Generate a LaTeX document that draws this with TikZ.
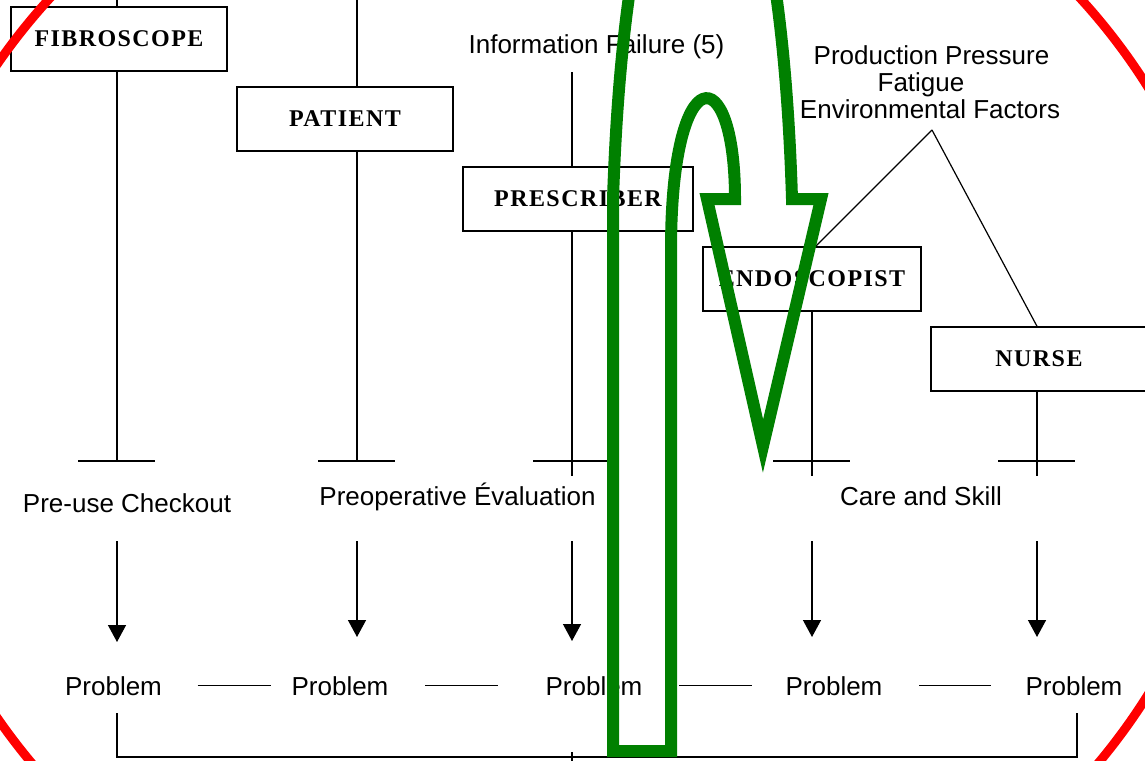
\documentclass[tikz,border=0pt]{standalone}
\usepackage{fontspec}
\setmainfont{Liberation Sans}
\newfontfamily\boxfont[LetterSpace=6]{Liberation Serif}
\usetikzlibrary{arrows.meta}
\definecolor{grn}{RGB}{0,128,0}
\definecolor{redring}{RGB}{255,0,0}
\begin{document}
\begin{tikzpicture}[x=1pt,y=-1pt,line width=1.4pt,
  boxnode/.style={draw,line width=1.4pt,minimum height=64pt,inner sep=0pt,
    font=\boxfont\bfseries\fontsize{24}{28}\selectfont},
  lbl/.style={inner sep=0pt,anchor=base,font=\fontsize{26}{31}\selectfont},
  prob/.style={lbl},
  tick/.style={line width=1.4pt},
  downarrow/.style={-{Triangle[width=18pt,length=17pt]}},
  bigarrow/.style={draw=grn,line width=12pt,line join=miter,miter limit=10},
  ring/.style={draw=redring,line width=9pt}]
\useasboundingbox (0,0) rectangle (1145,760);
\fill[white] (0,0) rectangle (1145,760);

% boxes
\node[boxnode,minimum width=216pt] (fib) at (119,39) {FIBROSCOPE};
\node[boxnode,minimum width=216pt] (pat) at (345,119) {PATIENT};
\node[boxnode,minimum width=230pt] (pres) at (578,199) {PRESCRIBER};
\node[boxnode,minimum width=218pt] (endo) at (812,279) {ENDOSCOPIST};
\node[boxnode,minimum width=216pt] (nurse) at (1039,359) {NURSE};

% labels
\node[lbl] (info) at (596.5,53) {Information Failure (5)};
\node[lbl] (prod) at (931.5,65) {Production Pressure};
\node[lbl] (fat) at (921,92) {Fatigue};
\node[lbl] (env) at (930,118) {Environmental Factors};
\coordinate (apex) at (932,130);
\node[lbl] (chk) at (127,512) {Pre-use Checkout};
\node[lbl] (eval) at (457.5,505) {Preoperative Évaluation};
\node[lbl] (care) at (921,505) {Care and Skill};

\node[prob] (p1) at (113.5,695) {Problem};
\node[prob] (p2) at (340,695) {Problem};
\node[prob] (p3) at (594,695) {Problem};
\node[prob] (p4) at (834,695) {Problem};
\node[prob] (p5) at (1074,695) {Problem};

% top coordinates and tick coordinates
\coordinate (ftop) at (117,0);
\coordinate (ptop) at (357,0);
\coordinate (itop) at (572,72);
\coordinate (ft) at (117,461);
\coordinate (pt) at (357,461);
\coordinate (rt) at (572,461);
\coordinate (et) at (812,461);
\coordinate (nt) at (1037,461);

% vertical lines
\draw (ftop) -- (ftop |- fib.north);
\draw (ft |- fib.south) -- (ft);
\draw (ptop) -- (ptop |- pat.north);
\draw (pt |- pat.south) -- (pt);
\draw (itop) -- (itop |- pres.north);
\draw (rt |- pres.south) -- ([yshift=-15pt]rt);
\draw (et |- endo.south) -- ([yshift=-15pt]et);
\draw (nt |- nurse.south) -- ([yshift=-15pt]nt);

% ticks
\foreach \c in {ft,pt,rt,et,nt}
  \draw[tick] ([xshift=-39pt]\c) -- ([xshift=38pt]\c);

% apex lines
\draw[line width=1.2pt] (apex) -- (815,247);
\draw[line width=1.2pt] (apex) -- (nurse.north -| nt);

% arrows to problems
\coordinate (a1s) at (117,541); \coordinate (a1e) at (117,642);
\coordinate (a2s) at (357,541); \coordinate (a2e) at (357,637);
\coordinate (a3s) at (572,541); \coordinate (a3e) at (572,641);
\coordinate (a4s) at (812,541); \coordinate (a4e) at (812,637);
\coordinate (a5s) at (1037,541); \coordinate (a5e) at (1037,637);
\foreach \i in {1,...,5}
  \draw[downarrow] (a\i s) -- (a\i e);

% problem links
\draw[shorten <=35pt,shorten >=20pt] (p1.east) -- (p2.west);
\draw[shorten <=36pt,shorten >=47pt] (p2.east) -- (p3.west);
\draw[shorten <=36pt,shorten >=33pt] (p3.east) -- (p4.west);
\draw[shorten <=36pt,shorten >=34pt] (p4.east) -- (p5.west);

% bottom bracket
\coordinate (b1) at (117,713);
\coordinate (b2) at (1077,713);
\draw (b1) -- (117,757) -- (1077,757) -- (b2);
\draw (572,752) -- (572,762);

% green U-turn arrow
\path[bigarrow] (613,751) -- (671,751) -- (671,250)
  .. controls (671,57) and (735,57) .. (735,199)
  -- (707,199) -- (763,446) -- (821,199) -- (792,199)
  .. controls (776,-321) and (630,-321) .. (613,199) -- cycle;

% red ring
\path[ring] (565,391) ellipse [x radius=671pt,y radius=613pt];
\end{tikzpicture}
\end{document}
